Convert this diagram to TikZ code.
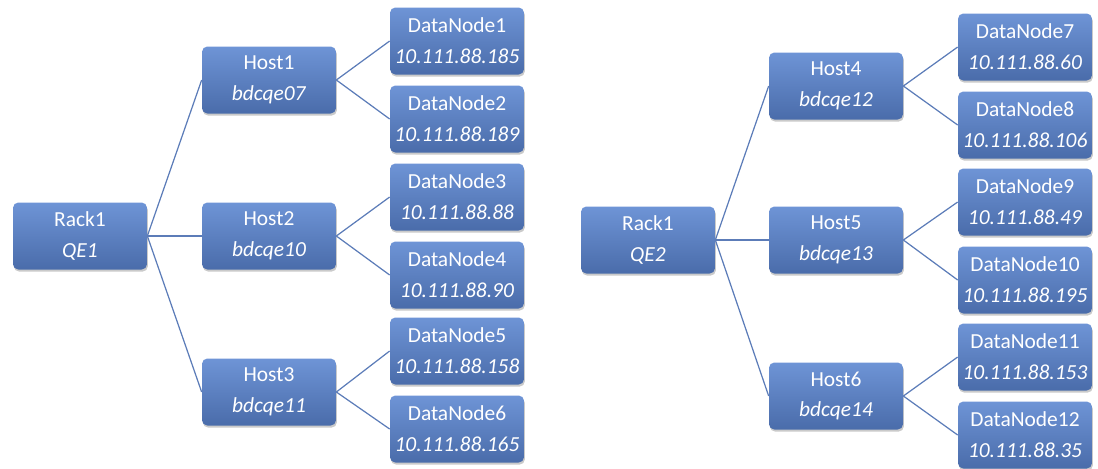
\documentclass[tikz,border=0pt]{standalone}
\usepackage{fontspec}
\setmainfont{Carlito}
\usepackage{tikz}
\usetikzlibrary{positioning,shapes,shadows}

\definecolor{boxtop}{RGB}{110,148,214}
\definecolor{boxbottom}{RGB}{74,108,170}
\definecolor{linkblue}{RGB}{92,124,184}

\tikzset{
  box/.style={rectangle, rounded corners=3pt, minimum width=2.68cm, minimum height=1.34cm,
    top color=boxtop, bottom color=boxbottom, draw=none, text=white, align=center,
    font=\fontsize{12.2}{17.5}\selectfont, inner sep=0pt,
    drop shadow={shadow xshift=0.5pt, shadow yshift=-1.2pt, opacity=0.35, fill=black!60}},
  link/.style={line width=0.7pt, color=linkblue}
}

\begin{document}
\begin{tikzpicture}[x=0.02cm, y=-0.02cm]
\useasboundingbox (0,0) rectangle (1098,468);

\node[box] (rack1) at (80,236) {Rack1\\\textit{QE1}};
\node[box] (host1) at (269,80) {Host1\\\textit{bdcqe07}};
\node[box] (host2) at (269,236) {Host2\\\textit{bdcqe10}};
\node[box] (host3) at (269,392) {Host3\\\textit{bdcqe11}};
\node[box] (dn1) at (457,41) {DataNode1\\\textit{10.111.88.185}};
\node[box] (dn2) at (457,119) {DataNode2\\\textit{10.111.88.189}};
\node[box] (dn3) at (457,197) {DataNode3\\\textit{10.111.88.88}};
\node[box] (dn4) at (457,275) {DataNode4\\\textit{10.111.88.90}};
\node[box] (dn5) at (457,351) {DataNode5\\\textit{10.111.88.158}};
\node[box] (dn6) at (457,429) {DataNode6\\\textit{10.111.88.165}};

\draw[link] (rack1.east) -- (host1.west);
\draw[link] (rack1.east) -- (host2.west);
\draw[link] (rack1.east) -- (host3.west);
\draw[link] (host1.east) -- (dn1.west);
\draw[link] (host1.east) -- (dn2.west);
\draw[link] (host2.east) -- (dn3.west);
\draw[link] (host2.east) -- (dn4.west);
\draw[link] (host3.east) -- (dn5.west);
\draw[link] (host3.east) -- (dn6.west);

\node[box] (rack2) at (648,240) {Rack1\\\textit{QE2}};
\node[box] (host4) at (836,86) {Host4\\\textit{bdcqe12}};
\node[box] (host5) at (836,240) {Host5\\\textit{bdcqe13}};
\node[box] (host6) at (836,396) {Host6\\\textit{bdcqe14}};
\node[box] (dn7) at (1025,47) {DataNode7\\\textit{10.111.88.60}};
\node[box] (dn8) at (1025,125) {DataNode8\\\textit{10.111.88.106}};
\node[box] (dn9) at (1025,202) {DataNode9\\\textit{10.111.88.49}};
\node[box] (dn10) at (1025,280) {DataNode10\\\textit{10.111.88.195}};
\node[box] (dn11) at (1025,357) {DataNode11\\\textit{10.111.88.153}};
\node[box] (dn12) at (1025,435) {DataNode12\\\textit{10.111.88.35}};

\draw[link] (rack2.east) -- (host4.west);
\draw[link] (rack2.east) -- (host5.west);
\draw[link] (rack2.east) -- (host6.west);
\draw[link] (host4.east) -- (dn7.west);
\draw[link] (host4.east) -- (dn8.west);
\draw[link] (host5.east) -- (dn9.west);
\draw[link] (host5.east) -- (dn10.west);
\draw[link] (host6.east) -- (dn11.west);
\draw[link] (host6.east) -- (dn12.west);
\end{tikzpicture}
\end{document}
